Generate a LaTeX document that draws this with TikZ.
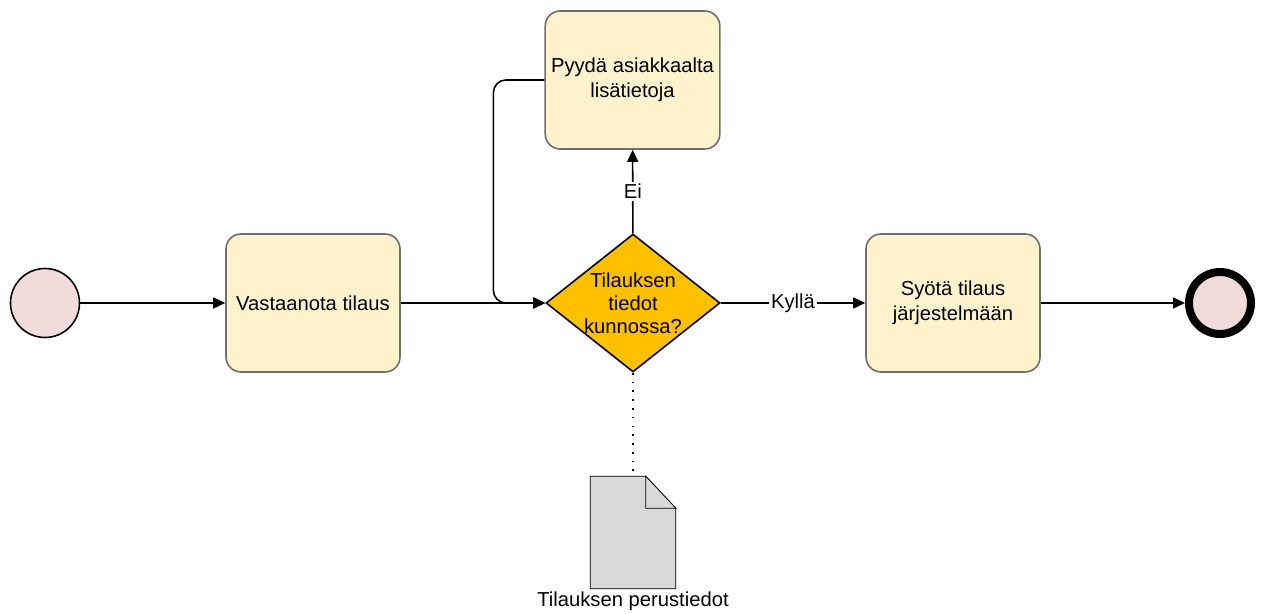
\documentclass[tikz,border=0pt]{standalone}
\usepackage{fontspec}
\setmainfont{Liberation Sans}
\usepackage{xcolor}
\usepackage{tikz}
\usetikzlibrary{shapes}
\usetikzlibrary{arrows.meta}
\definecolor{eventfill}{HTML}{F2DCDB}
\definecolor{taskfill}{HTML}{FFF2CC}
\definecolor{taskline}{HTML}{6E6E6E}
\definecolor{gatefill}{HTML}{FFC000}
\definecolor{docfill}{HTML}{D9D9D9}
\tikzset{
	event node/.style={circle,draw,fill=eventfill,inner sep=0pt,minimum size=1.38cm},
	end node/.style={circle,draw,fill=eventfill,inner sep=0pt,line width=0.16cm,minimum size=1.24cm},
	task node/.style={rectangle,rounded corners=0.3cm,draw=taskline,fill=taskfill,align=center,
		minimum width=3.48cm,minimum height=2.76cm,font=\fontsize{11.5}{14}\selectfont},
	gate node/.style={diamond,draw,fill=gatefill,inner sep=0pt,minimum width=3.48cm,minimum height=2.76cm},
	doc node/.style={rectangle,minimum width=1.68cm,minimum height=2.22cm,inner sep=0pt},
	flow label/.style={fill=white,inner sep=1pt,font=\fontsize{11.5}{14}\selectfont}
}

\begin{document}
\begin{tikzpicture}[->,>={Triangle[length=0.24cm,width=0.22cm]},line width=0.9pt]
	\useasboundingbox (0,0) rectangle (25.22,-12.28);
	\node [event node] (start) at (0.9,-6.06) {};
	\node [task node] (receive) at (6.26,-6.06) {Vastaanota tilaus};
	\node [gate node,label={[align=center,font=\fontsize{11.5}{13}\selectfont]center:Tilauksen\\tiedot\\kunnossa?}] (check) at (12.66,-6.06) {};
	\node [task node] (ask) at (12.65,-1.6) {Pyydä asiakkaalta\\lisätietoja};
	\node [task node] (enter) at (19.06,-6.06) {Syötä tilaus\\järjestelmään};
	\node [end node] (stop) at (24.4,-6.06) {};
	\node [doc node] (doc) at (12.66,-10.65) {};
	\node [font=\fontsize{11.5}{14}\selectfont] (doclabel) at (12.66,-12.03) {Tilauksen perustiedot};
	% document shape
	\draw [-,thin,fill=docfill] (doc.south west) -- (doc.north west) -- ([xshift=-0.6cm]doc.north east)
		-- ([yshift=-0.64cm]doc.north east) -- (doc.south east) -- cycle;
	\draw [-,thin,fill=docfill] ([xshift=-0.6cm]doc.north east) -- ([xshift=-0.6cm,yshift=-0.64cm]doc.north east)
		-- ([yshift=-0.64cm]doc.north east) -- cycle;
	% flows
	\draw (start) -- (receive);
	\draw (receive) -- (check);
	\draw (check) -- node [flow label] {Kyllä} (enter);
	\draw (check) -- node [flow label] {Ei} (ask);
	\draw (enter) -- (stop);
	\draw [rounded corners=0.25cm] (ask.west) -- ++(-1.02,0) |- (check.west);
	\draw [-,line width=1pt,dash pattern=on 1pt off 4pt] (check.south) -- (doc.north);
\end{tikzpicture}
\end{document}
